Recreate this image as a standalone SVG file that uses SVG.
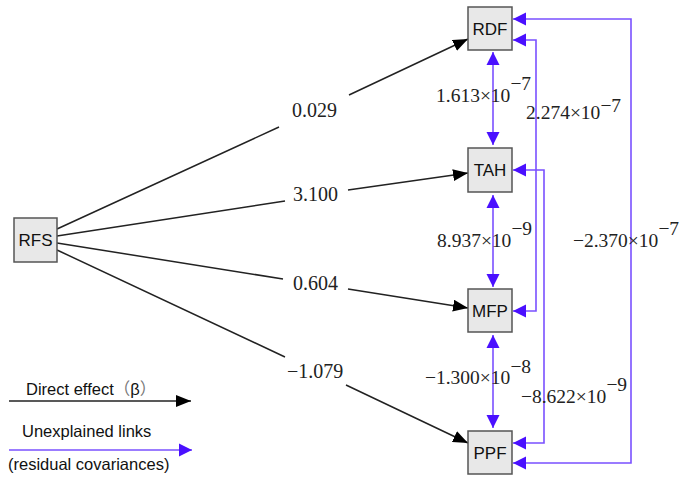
<svg xmlns="http://www.w3.org/2000/svg" width="686" height="483" viewBox="0 0 686 483">
<style>
.box{fill:#e8e8e8;stroke:#555;stroke-width:1.5}
.nl{font-family:"Liberation Sans",Arial,sans-serif;font-size:17px;fill:#111;text-anchor:middle}
.num{font-family:"Liberation Serif","Times New Roman",serif;font-size:20px;fill:#222}
.cov{font-family:"Liberation Serif","Times New Roman",serif;font-size:19.5px;fill:#222}
.lg{font-family:"Liberation Sans",Arial,"Noto Sans CJK SC",sans-serif;font-size:16.5px;fill:#111}
.blk{fill:none;stroke:#222;stroke-width:1.5}
.blu{fill:none;stroke:#7a50ff;stroke-width:1.6}
</style>
<defs>
<marker id="ab" markerUnits="userSpaceOnUse" markerWidth="16" markerHeight="12" refX="15" refY="6" orient="auto">
<path d="M0,0 L15,6 L0,12 Z" fill="#000"/>
</marker>
<marker id="au" markerUnits="userSpaceOnUse" markerWidth="14" markerHeight="14" refX="13" refY="7" orient="auto-start-reverse">
<path d="M0,0.5 L13,7 L0,13.5 Z" fill="#4a10ff"/>
</marker>
</defs>
<rect width="686" height="483" fill="#fff"/>
<g id="connectors">
<path class="blk" d="M57,229 L279,127 M349,95 L468,39" marker-end="url(#ab)"/>
<path class="blk" d="M57,236 L285,201 M348,190 L468,173" marker-end="url(#ab)"/>
<path class="blk" d="M57,243 L283,279 M348,289 L468,308" marker-end="url(#ab)"/>
<path class="blk" d="M57,250 L285,357 M346,385 L468,443" marker-end="url(#ab)"/>
<path class="blu" d="M493,52 L493,145" marker-start="url(#au)" marker-end="url(#au)"/>
<path class="blu" d="M493,195 L493,287" marker-start="url(#au)" marker-end="url(#au)"/>
<path class="blu" d="M493,335 L493,428" marker-start="url(#au)" marker-end="url(#au)"/>
<path class="blu" d="M513,40 L536,40 L536,311 L513,311" marker-start="url(#au)" marker-end="url(#au)"/>
<path class="blu" d="M513,170 L544,170 L544,443 L513,443" marker-start="url(#au)" marker-end="url(#au)"/>
<path class="blu" d="M513,19 L631,19 L631,463 L513,463" marker-start="url(#au)" marker-end="url(#au)"/>
</g>
<g id="RFS"><rect class="box" x="14" y="218" width="43" height="44"/><text class="nl" x="35.5" y="246">RFS</text></g>
<g id="RDF"><rect class="box" x="468" y="7" width="44" height="43"/><text class="nl" x="490" y="35">RDF</text></g>
<g id="TAH"><rect class="box" x="468" y="148" width="44" height="44"/><text class="nl" x="490" y="176">TAH</text></g>
<g id="MFP"><rect class="box" x="468" y="289" width="44" height="43"/><text class="nl" x="490" y="317">MFP</text></g>
<g id="PPF"><rect class="box" x="468" y="431" width="44" height="43"/><text class="nl" x="490" y="459">PPF</text></g>
<g id="labels">
<text class="num" x="292" y="117">0.029</text>
<text class="num" x="293" y="201">3.100</text>
<text class="num" x="293" y="290">0.604</text>
<text class="num" x="287" y="378">−1.079</text>
<text class="cov" x="436" y="102">1.613×10<tspan dy="-12">−7</tspan></text>
<text class="cov" x="526" y="119">2.274×10<tspan dy="-7">−7</tspan></text>
<text class="cov" x="437" y="247">8.937×10<tspan dy="-12">−9</tspan></text>
<text class="cov" x="573" y="247">−2.370×10<tspan dy="-12">−7</tspan></text>
<text class="cov" x="425" y="384">−1.300×10<tspan dy="-11">−8</tspan></text>
<text class="cov" x="521" y="403">−8.622×10<tspan dy="-12">−9</tspan></text>
</g>
<g id="legend">
<text class="lg" x="26" y="395">Direct effect<tspan fill="#777">（</tspan>β<tspan fill="#777">）</tspan></text>
<path class="blk" d="M9,401 L191,401" marker-end="url(#ab)"/>
<text class="lg" x="22" y="437">Unexplained links</text>
<path class="blu" d="M9,450 L192,450" marker-end="url(#au)"/>
<text class="lg" x="8" y="470">(residual covariances)</text>
</g>
</svg>
